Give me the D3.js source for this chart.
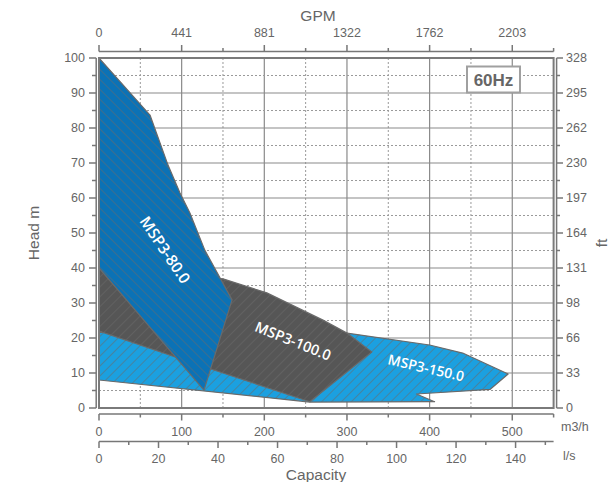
<!DOCTYPE html>
<html><head><meta charset="utf-8">
<script src="https://cdn.jsdelivr.net/npm/d3@7/dist/d3.min.js"></script>
<style>body{margin:0;background:#fff}svg{display:block}</style>
</head><body>
<script>
// ---- data ----
const m3hTicks = [0, 100, 200, 300, 400, 500];
const gpmLabels = ["0", "441", "881", "1322", "1762", "2203"];
const lsTicks = [0, 20, 40, 60, 80, 100, 120, 140];
const headTicks = [0, 10, 20, 30, 40, 50, 60, 70, 80, 90, 100];
const ftLabels = ["0", "33", "66", "98", "131", "164", "197", "230", "262", "295", "328"];
const seriesNames = ["MSP3-150.0", "MSP3-100.0", "MSP3-80.0"];
// polygons [capacity m3/h, head m]
const msp150 = [[0, 21.7], [300, 21.4], [400, 18], [440, 15.7], [495, 9.7], [473, 5.3], [384, 4.0], [406, 1.8], [255, 1.7], [0, 8]];
const msp100 = [[0, 40], [150, 36.9], [203, 32.9], [271, 25.1], [300, 21.4], [330, 16], [255, 1.8], [128, 11.7], [0, 22]];
const msp80 = [[0, 100], [61.7, 83.7], [83.5, 69.4], [98, 61.4], [110, 55.7], [128, 45.1], [161, 30.9], [127, 5.1], [0, 40]];

const W = 616, H = 482;
const x = d3.scaleLinear().domain([0, 550]).range([99, 553.6]);
const y = d3.scaleLinear().domain([0, 100]).range([408, 58]);
const xls = d3.scaleLinear().domain([0, 550 / 3.6]).range([99, 553.6]);

const svg = d3.select("body").append("svg").attr("width", W).attr("height", H)
  .style("font-family", "'Liberation Sans', Arial, sans-serif");
const defs = svg.append("defs");
function hatch(id, angle) {
  const p = defs.append("pattern").attr("id", id).attr("patternUnits", "userSpaceOnUse")
    .attr("width", 7).attr("height", 7).attr("patternTransform", `rotate(${angle})`);
  p.append("line").attr("x1", 0).attr("y1", 0).attr("x2", 0).attr("y2", 7)
    .attr("stroke", "#6a6a6a").attr("stroke-width", 1.1);
}
hatch("hb", -45); hatch("hf", 45);
defs.append("clipPath").attr("id", "clip").append("rect")
  .attr("x", x(0)).attr("y", y(100)).attr("width", x(550) - x(0)).attr("height", y(0) - y(100));

const grey = "#666";
// grid
const gx = d3.range(50, 550, 50);
const gy = d3.range(5, 100, 5);
svg.append("g").selectAll("line").data(gx).join("line")
  .attr("x1", d => x(d)).attr("x2", d => x(d)).attr("y1", y(100)).attr("y2", y(0))
  .attr("stroke", d => d % 100 === 0 ? "#8a8a8a" : "#9a9a9a")
  .attr("stroke-width", d => d % 100 === 0 ? 1.2 : 1)
  .attr("stroke-dasharray", d => d % 100 === 0 ? null : "2,2");
svg.append("g").selectAll("line").data(gy).join("line")
  .attr("x1", x(0)).attr("x2", x(550)).attr("y1", d => y(d)).attr("y2", d => y(d))
  .attr("stroke", d => d % 10 === 0 ? "#8a8a8a" : "#9a9a9a")
  .attr("stroke-width", d => d % 10 === 0 ? 1.2 : 1)
  .attr("stroke-dasharray", d => d % 10 === 0 ? null : "2,2");

// regions
const line = d3.line().x(d => x(d[0])).y(d => y(d[1])).curve(d3.curveLinearClosed);
const regions = [
  {pts: msp150, fill: "#1ba0e0", pat: "hf"},
  {pts: msp100, fill: "#565656", pat: "hf"},
  {pts: msp80, fill: "#0b72b6", pat: "hb"}
];
const rg = svg.append("g").attr("clip-path", "url(#clip)");
regions.forEach(r => {
  rg.append("path").attr("d", line(r.pts)).attr("fill", r.fill);
  rg.append("path").attr("d", line(r.pts)).attr("fill", `url(#${r.pat})`)
    .attr("stroke", "#6a6a6a").attr("stroke-width", 1.2).attr("stroke-linejoin", "round");
});

// series labels
const lab = [
  {t: seriesNames[2], cx: 165, cy: 250, a: 56, s: 15.5},
  {t: seriesNames[1], cx: 293, cy: 341, a: 22, s: 14.5},
  {t: seriesNames[0], cx: 426, cy: 368, a: 13, s: 14}
];
svg.append("g").selectAll("text").data(lab).join("text")
  .attr("transform", d => `translate(${d.cx},${d.cy}) rotate(${d.a})`)
  .attr("text-anchor", "middle").attr("dy", "0.35em")
  .attr("fill", "#fff").attr("font-family", "'Open Sans', sans-serif")
  .attr("font-weight", 600).attr("font-size", d => d.s).text(d => d.t);

// frame
svg.append("rect").attr("x", x(0)).attr("y", y(100)).attr("width", x(550) - x(0)).attr("height", y(0) - y(100))
  .attr("fill", "none").attr("stroke", "#7a7a7a").attr("stroke-width", 2);

const ax = {stroke: "#777", sw: 1.5};
// left axis
const L = svg.append("g");
L.append("line").attr("x1", 96.2).attr("x2", 96.2).attr("y1", y(100)).attr("y2", y(0)).attr("stroke", ax.stroke).attr("stroke-width", ax.sw);
L.selectAll(".t").data(d3.range(0, 101, 5)).join("line")
  .attr("x1", d => d % 10 === 0 ? 89 : 92).attr("x2", 96.2).attr("y1", d => y(d)).attr("y2", d => y(d))
  .attr("stroke", ax.stroke).attr("stroke-width", ax.sw);
L.selectAll("text").data(headTicks).join("text")
  .attr("x", 85).attr("y", d => y(d)).attr("dy", "0.35em").attr("text-anchor", "end")
  .attr("fill", grey).attr("font-size", 12.5).text(d => d);
svg.append("text").attr("transform", `translate(34,233) rotate(-90)`).attr("text-anchor", "middle")
  .attr("dy", "0.35em").attr("fill", grey).attr("font-size", 15.5).text("Head m");

// right axis
const R = svg.append("g");
R.append("line").attr("x1", 556.6).attr("x2", 556.6).attr("y1", y(100)).attr("y2", y(0)).attr("stroke", ax.stroke).attr("stroke-width", ax.sw);
R.selectAll(".t").data(d3.range(0, 101, 5)).join("line")
  .attr("x1", 556.6).attr("x2", d => d % 10 === 0 ? 563 : 560).attr("y1", d => y(d)).attr("y2", d => y(d))
  .attr("stroke", ax.stroke).attr("stroke-width", ax.sw);
R.selectAll("text").data(headTicks).join("text")
  .attr("x", 566).attr("y", (d, i) => y(d)).attr("dy", "0.35em").attr("text-anchor", "start")
  .attr("fill", grey).attr("font-size", 12.5).text((d, i) => ftLabels[i]);
svg.append("text").attr("transform", `translate(602,243) rotate(-90)`).attr("text-anchor", "middle")
  .attr("dy", "0.35em").attr("fill", grey).attr("font-size", 15.5).text("ft");

// top axis GPM
const T = svg.append("g");
T.append("line").attr("x1", x(0)).attr("x2", x(550)).attr("y1", 51.5).attr("y2", 51.5).attr("stroke", ax.stroke).attr("stroke-width", ax.sw);
T.selectAll(".t").data(d3.range(0, 551, 50)).join("line")
  .attr("x1", d => x(d)).attr("x2", d => x(d)).attr("y1", 51.5).attr("y2", d => d % 100 === 0 ? 45 : 48)
  .attr("stroke", ax.stroke).attr("stroke-width", ax.sw);
T.selectAll("text").data(m3hTicks).join("text")
  .attr("x", d => x(d)).attr("y", 37).attr("text-anchor", "middle")
  .attr("fill", grey).attr("font-size", 12.5).text((d, i) => gpmLabels[i]);
svg.append("text").attr("x", 318).attr("y", 21).attr("text-anchor", "middle")
  .attr("fill", grey).attr("font-size", 15.5).text("GPM");

// bottom m3/h axis
const B = svg.append("g");
B.append("line").attr("x1", x(0)).attr("x2", x(550)).attr("y1", 414).attr("y2", 414).attr("stroke", ax.stroke).attr("stroke-width", ax.sw);
B.selectAll(".t").data(d3.range(0, 551, 50)).join("line")
  .attr("x1", d => x(d)).attr("x2", d => x(d)).attr("y1", 414).attr("y2", d => d % 100 === 0 ? 420.5 : 417.5)
  .attr("stroke", ax.stroke).attr("stroke-width", ax.sw);
B.selectAll("text").data(m3hTicks).join("text")
  .attr("x", d => x(d)).attr("y", 436).attr("text-anchor", "middle")
  .attr("fill", grey).attr("font-size", 12.5).text(d => d);
svg.append("text").attr("x", 561).attr("y", 431).attr("fill", grey).attr("font-size", 12.5).text("m3/h");

// l/s axis
const S = svg.append("g");
S.append("line").attr("x1", x(0)).attr("x2", x(550)).attr("y1", 441.5).attr("y2", 441.5).attr("stroke", ax.stroke).attr("stroke-width", ax.sw);
S.selectAll(".t").data(d3.range(0, 151, 10)).join("line")
  .attr("x1", d => xls(d)).attr("x2", d => xls(d)).attr("y1", 441.5).attr("y2", d => d % 20 === 0 ? 448 : 445)
  .attr("stroke", ax.stroke).attr("stroke-width", ax.sw);
S.selectAll("text").data(lsTicks).join("text")
  .attr("x", d => xls(d)).attr("y", 463).attr("text-anchor", "middle")
  .attr("fill", grey).attr("font-size", 12.5).text(d => d);
svg.append("text").attr("x", 563).attr("y", 460).attr("fill", grey).attr("font-size", 12.5).text("l/s");
svg.append("text").attr("x", 316).attr("y", 479.5).attr("text-anchor", "middle")
  .attr("fill", grey).attr("font-size", 15.5).text("Capacity");

// 60Hz box
svg.append("rect").attr("x", 467).attr("y", 66.5).attr("width", 53).attr("height", 26)
  .attr("fill", "#fff").attr("stroke", "#a0a0a0").attr("stroke-width", 2);
svg.append("text").attr("x", 493.5).attr("y", 86).attr("text-anchor", "middle")
  .attr("fill", grey).attr("font-weight", "bold").attr("font-size", 17).text("60Hz");
</script>
</body></html>
